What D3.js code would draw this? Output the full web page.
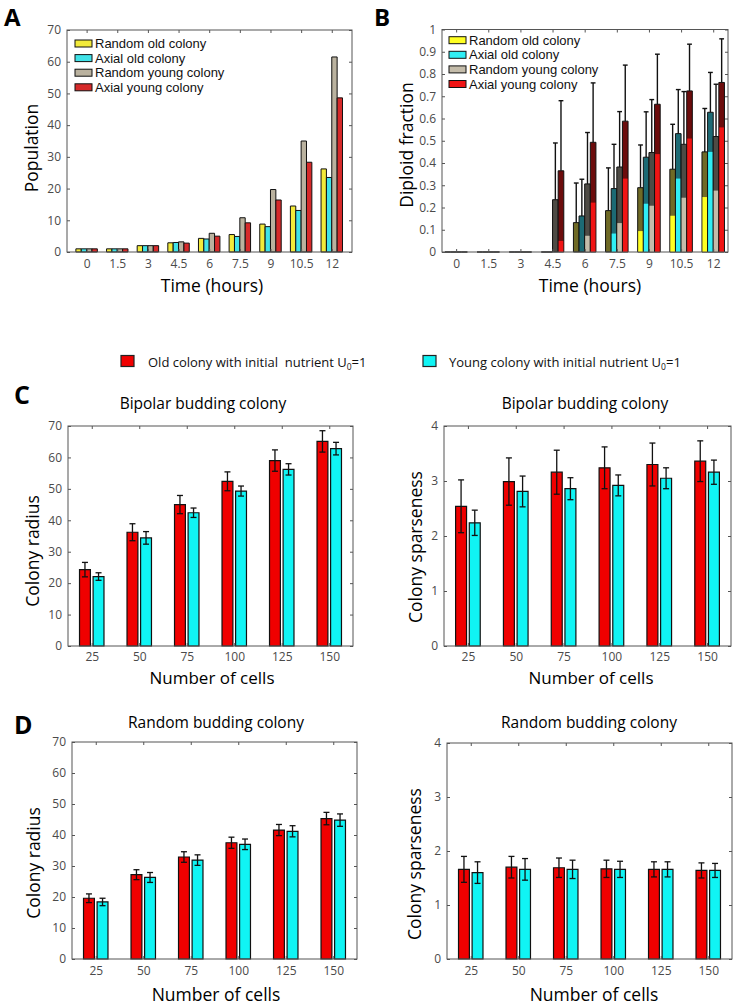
<!DOCTYPE html>
<html><head><meta charset="utf-8">
<script src="https://cdn.jsdelivr.net/npm/d3@7/dist/d3.min.js"></script>
<style>
body{margin:0;background:#fff}
svg{display:block}
text{font-family:"Open Sans",sans-serif}
text.lg{font-family:"Liberation Sans",Arial,sans-serif}
</style>
</head><body>
<svg id="c" width="734" height="1005"></svg>
<script>
// ---------- DATA ----------
const timeLabels = ["0","1.5","3","4.5","6","7.5","9","10.5","12"];
const seriesAB = ["Random old colony","Axial old colony","Random young colony","Axial young colony"];

// Panel A: population
const popRandomOld   = [1,1,2,2.9,4.3,5.5,8.8,14.5,26.2];
const popAxialOld    = [1,1,2,3.0,4.1,4.9,8.0,13.1,23.5];
const popRandomYoung = [1,1,2,3.2,5.9,10.8,19.7,35.0,61.5];
const popAxialYoung  = [1,1,2,2.8,5.0,9.2,16.4,28.3,48.6];

// Panel B: diploid fraction (mean, lower value, upper error)
const dipRandomOld   = [0,0,0,0,0.132,0.186,0.289,0.372,0.450];
const dipAxialOld    = [0,0,0,0,0.162,0.285,0.426,0.532,0.628];
const dipRandomYoung = [0,0,0,0.235,0.306,0.382,0.447,0.484,0.519];
const dipAxialYoung  = [0,0,0,0.365,0.493,0.588,0.664,0.724,0.762];
const lowRandomOld   = [0,0,0,0,0,0,0.094,0.163,0.247];
const lowAxialOld    = [0,0,0,0,0,0.083,0.217,0.330,0.450];
const lowRandomYoung = [0,0,0,0,0.073,0.130,0.208,0.244,0.276];
const lowAxialYoung  = [0,0,0,0.050,0.222,0.330,0.440,0.510,0.560];
const errRandomOld   = [0,0,0,0,0.178,0.192,0.192,0.202,0.195];
const errAxialOld    = [0,0,0,0,0.165,0.199,0.204,0.198,0.179];
const errRandomYoung = [0,0,0,0.255,0.231,0.249,0.238,0.237,0.235];
const errAxialYoung  = [0,0,0,0.315,0.267,0.252,0.225,0.210,0.196];

// Panels C, D
const cellLabels = ["25","50","75","100","125","150"];
const legendCD = ["Old colony with initial  nutrient U","Young colony with initial nutrient U"];
const bipRadiusOld      = [24.3,36.2,45.0,52.4,59.0,65.1];
const bipRadiusOldErr   = [2.3,2.7,2.9,3.0,3.4,3.4];
const bipRadiusYoung    = [22.1,34.4,42.4,49.3,56.2,62.8];
const bipRadiusYoungErr = [1.2,2.0,1.5,1.6,1.8,2.0];
const bipSparseOld      = [2.54,2.99,3.16,3.24,3.30,3.36];
const bipSparseOldErr   = [0.48,0.43,0.40,0.38,0.39,0.37];
const bipSparseYoung    = [2.24,2.81,2.86,2.92,3.05,3.16];
const bipSparseYoungErr = [0.23,0.28,0.20,0.19,0.19,0.22];
const rndRadiusOld      = [19.6,27.2,32.9,37.5,41.6,45.3];
const rndRadiusOldErr   = [1.4,1.6,1.7,1.8,1.8,2.0];
const rndRadiusYoung    = [18.4,26.3,31.9,37.0,41.2,44.8];
const rndRadiusYoungErr = [1.2,1.6,1.7,1.7,1.8,2.0];
const rndSparseOld      = [1.66,1.70,1.69,1.67,1.66,1.64];
const rndSparseOldErr   = [0.24,0.20,0.18,0.16,0.14,0.14];
const rndSparseYoung    = [1.60,1.66,1.66,1.66,1.66,1.64];
const rndSparseYoungErr = [0.20,0.20,0.17,0.15,0.14,0.13];

const radiusTicks = [0,10,20,30,40,50,60,70];
const sparseTicks = [0,1,2,3,4];
const popTicks = [0,10,20,30,40,50,60,70];
const fracTicks = [0,0.1,0.2,0.3,0.4,0.5,0.6,0.7,0.8,0.9,1];

// ---------- STYLE ----------
const colA = ["#f2ea3a","#40e2e8","#bab29f","#d62a2a"];
const colBbright = ["#ffff22","#30eef4","#c4bcaa","#f01414"];
const colBdark = ["#6f6a26","#1c6a74","#4e4b45","#6c0c0c"];
const colCD = ["#f00000","#10f4f4"];
const axisCol = "#555";
const tickTextCol = "#4a4a4a";

const svg = d3.select("#c");

function makeScales(box, xd, yd){
  return {
    x: d3.scaleLinear().domain(xd).range([box.l, box.r]),
    y: d3.scaleLinear().domain(yd).range([box.b, box.t])
  };
}

function frame(box, sc, xVals, xLabels, yTicks, yFmt, xPad){
  const g = svg.append("g");
  const tl = 3;
  const bottom = g.append("g").attr("transform",`translate(0,${box.b})`)
    .call(d3.axisBottom(sc.x).tickValues(xVals).tickFormat((d,i)=>xLabels[i]).tickSizeInner(-tl).tickSizeOuter(0).tickPadding(xPad||7));
  const top = g.append("g").attr("transform",`translate(0,${box.t})`)
    .call(d3.axisTop(sc.x).tickValues(xVals).tickFormat("").tickSizeInner(-tl).tickSizeOuter(0));
  const left = g.append("g").attr("transform",`translate(${box.l},0)`)
    .call(d3.axisLeft(sc.y).tickValues(yTicks).tickFormat(yFmt).tickSizeInner(-tl).tickSizeOuter(0).tickPadding(6));
  const right = g.append("g").attr("transform",`translate(${box.r},0)`)
    .call(d3.axisRight(sc.y).tickValues(yTicks).tickFormat("").tickSizeInner(-tl).tickSizeOuter(0));
  [bottom,top,left,right].forEach(a=>{
    a.select(".domain").remove();
    a.selectAll("line").attr("stroke",axisCol).attr("stroke-width",1);
    a.selectAll("text").attr("fill",tickTextCol).style("font-size","12px");
  });
  g.append("rect").attr("x",box.l).attr("y",box.t).attr("width",box.r-box.l).attr("height",box.b-box.t)
    .attr("fill","none").attr("stroke",axisCol).attr("stroke-width",1);
}

function barPath(x0,x1,y0,y1){
  return `M${x0},${y0}H${x1}V${y1}H${x0}Z`;
}

function label(x,y,txt,size,opts={}){
  const t = svg.append("text").attr("x",x).attr("y",y).text(txt)
    .attr("text-anchor",opts.anchor||"middle").style("font-size",size+"px")
    .attr("fill","#000");
  if(opts.rotate) t.attr("transform",`rotate(-90,${x},${y})`);
  if(opts.bold) t.style("font-weight","bold");
  return t;
}

function seriesLegend(x0, y0, cols){
  const lg=svg.append("g");
  seriesAB.forEach((n,k)=>{
    const yy=y0+k*14.6;
    lg.append("rect").attr("x",x0).attr("y",yy-3.5).attr("width",17).attr("height",7)
      .attr("fill",cols[k]).attr("stroke","#111").attr("stroke-width",1);
    lg.append("text").attr("class","lg").attr("x",x0+20).attr("y",yy+4.6).text(n)
      .style("font-size","13px").attr("fill","#111");
  });
}

// ---------- PANEL A ----------
(function(){
  const box={l:67,r:352,t:30,b:252};
  const sc=makeScales(box,[0.36,9.66],[0,70]);
  const series=[popRandomOld,popAxialOld,popRandomYoung,popAxialYoung];
  const bw=0.175;
  const g=svg.append("g");
  series.forEach((s,k)=>{
    g.selectAll(null).data(s).enter().append("path")
      .attr("d",(v,i)=>{const c=i+1+(k-2)*bw; return barPath(sc.x(c),sc.x(c+bw),sc.y(0),sc.y(v));})
      .attr("fill",colA[k]).attr("stroke","#111").attr("stroke-width",1);
  });
  frame(box,sc,d3.range(1,10),timeLabels,popTicks,d3.format("d"));
  seriesLegend(75,43.5,colA);
  label(38,148,"Population",17.5,{rotate:true});
  label(212,292,"Time (hours)",17.5);
  label(4,26,"A",24,{bold:true,anchor:"start"});
})();

// ---------- PANEL B ----------
(function(){
  const box={l:442,r:728,t:29.5,b:252};
  const sc=makeScales(box,[0.56,9.46],[0,1]);
  const means=[dipRandomOld,dipAxialOld,dipRandomYoung,dipAxialYoung];
  const lows=[lowRandomOld,lowAxialOld,lowRandomYoung,lowAxialYoung];
  const errs=[errRandomOld,errAxialOld,errRandomYoung,errAxialYoung];
  const bw=0.175;
  const g=svg.append("g");
  means.forEach((s,k)=>{
    const gg=g.append("g");
    s.forEach((v,i)=>{
      const c=i+1+(k-2)*bw;
      const x0=sc.x(c), x1=sc.x(c+bw), xm=(x0+x1)/2;
      gg.append("path").attr("d",barPath(x0,x1,sc.y(0),sc.y(v)))
        .attr("fill",colBdark[k]).attr("stroke","#111").attr("stroke-width",1);
      if(lows[k][i]>0){
        gg.append("path").attr("d",barPath(x0+0.5,x1-0.5,sc.y(0),sc.y(lows[k][i])))
          .attr("fill",colBbright[k]).attr("stroke","none");
      }
      if(errs[k][i]>0){
        const yt=sc.y(v+errs[k][i]);
        gg.append("line").attr("x1",xm).attr("x2",xm).attr("y1",sc.y(v)).attr("y2",yt)
          .attr("stroke","#111").attr("stroke-width",1.4);
        gg.append("line").attr("x1",xm-2.4).attr("x2",xm+2.4).attr("y1",yt).attr("y2",yt)
          .attr("stroke","#111").attr("stroke-width",1.4);
      }
    });
  });
  frame(box,sc,d3.range(1,10),timeLabels,fracTicks,d=>d===0?"0":d===1?"1":d3.format(".1f")(d));
  seriesLegend(449,40.2,colBbright);
  label(413,145,"Diploid fraction",17.5,{rotate:true});
  label(590,292,"Time (hours)",17.5);
  label(374,26,"B",24,{bold:true,anchor:"start"});
})();

// ---------- MIDDLE LEGEND ----------
(function(){
  const items=[{x:121,tx:148},{x:423,tx:449}];
  items.forEach((it,k)=>{
    svg.append("rect").attr("x",it.x).attr("y",355.5).attr("width",13).attr("height",11)
      .attr("fill",colCD[k]).attr("stroke","#222").attr("stroke-width",1.2);
    const t=svg.append("text").attr("x",it.tx).attr("y",367).style("font-size","13px")
      .style("white-space","pre").attr("fill","#111");
    t.append("tspan").text(legendCD[k]);
    t.append("tspan").attr("dy",3).style("font-size","8.5px").text("0");
    t.append("tspan").attr("dy",-3).text("=1");
  });
})();

// ---------- PANELS C, D ----------
function pairPanel(box, yd, yTicks, old, oldErr, young, youngErr, xPad){
  const sc=makeScales(box,[0.5,6.5],yd);
  const bw=0.229, off=0.143;
  const g=svg.append("g");
  [[old,oldErr],[young,youngErr]].forEach(([s,e],k)=>{
    const gg=g.append("g");
    s.forEach((v,i)=>{
      const c=i+1+(k===0?-off:off);
      const x0=sc.x(c-bw/2), x1=sc.x(c+bw/2);
      gg.append("path").attr("d",barPath(x0,x1,sc.y(0),sc.y(v)))
        .attr("fill",colCD[k]).attr("stroke","#111").attr("stroke-width",1.2);
    });
  });
  [[old,oldErr],[young,youngErr]].forEach(([s,e],k)=>{
    const gg=g.append("g");
    s.forEach((v,i)=>{
      const c=i+1+(k===0?-off:off);
      const xm=sc.x(c), y1=sc.y(v-e[i]), y2=sc.y(v+e[i]);
      gg.append("line").attr("x1",xm).attr("x2",xm).attr("y1",y1).attr("y2",y2).attr("stroke","#111").attr("stroke-width",1.3);
      [y1,y2].forEach(yy=>gg.append("line").attr("x1",xm-3).attr("x2",xm+3).attr("y1",yy).attr("y2",yy).attr("stroke","#111").attr("stroke-width",1.3));
    });
  });
  frame(box,sc,d3.range(1,7),cellLabels,yTicks,d3.format("d"),xPad);
}

pairPanel({l:68,r:353,t:426,b:646},[0,70],radiusTicks,bipRadiusOld,bipRadiusOldErr,bipRadiusYoung,bipRadiusYoungErr,6);
label(39,551,"Colony radius",17.5,{rotate:true});
label(212,684,"Number of cells",17);
label(203,409,"Bipolar budding colony",15.5);
label(14,404,"C",25,{bold:true,anchor:"start"});

pairPanel({l:444,r:731,t:426,b:646},[0,4],sparseTicks,bipSparseOld,bipSparseOldErr,bipSparseYoung,bipSparseYoungErr,6);
label(422,547,"Colony sparseness",17.5,{rotate:true});
label(591,684,"Number of cells",17);
label(585,409,"Bipolar budding colony",15.5);

pairPanel({l:72,r:357,t:742,b:959},[0,70],radiusTicks,rndRadiusOld,rndRadiusOldErr,rndRadiusYoung,rndRadiusYoungErr);
label(40,863,"Colony radius",17.5,{rotate:true});
label(216,1001,"Number of cells",17.5);
label(216,728,"Random budding colony",15.5);
label(14,734,"D",25,{bold:true,anchor:"start"});

pairPanel({l:447,r:732,t:743,b:959},[0,4],sparseTicks,rndSparseOld,rndSparseOldErr,rndSparseYoung,rndSparseYoungErr);
label(421,864,"Colony sparseness",17.5,{rotate:true});
label(594,1001,"Number of cells",17.5);
label(589,728,"Random budding colony",15.5);
</script>
</body></html>
